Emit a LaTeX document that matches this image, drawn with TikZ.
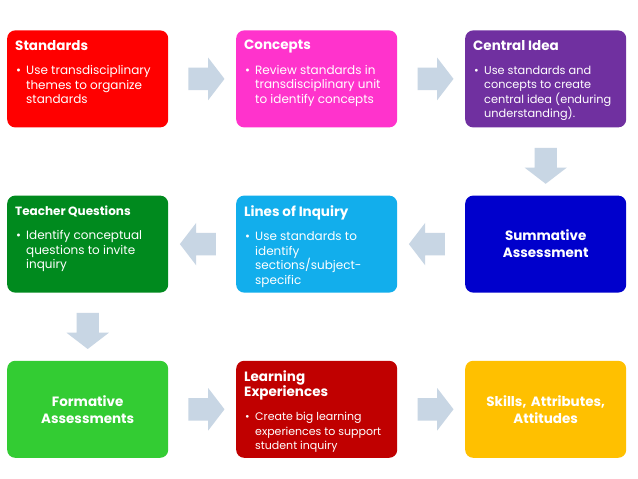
\documentclass[tikz,border=0pt]{standalone}
\usepackage{fontspec}
\setmainfont{Poppins}
\usetikzlibrary{shapes.arrows,calc}

\definecolor{stdred}{HTML}{FF0000}
\definecolor{conpink}{HTML}{FF33CC}
\definecolor{ideapurple}{HTML}{7030A0}
\definecolor{teachgreen}{HTML}{008A1E}
\definecolor{inqblue}{HTML}{12AEEC}
\definecolor{sumblue}{HTML}{0000CC}
\definecolor{formgreen}{HTML}{33CC33}
\definecolor{learnred}{HTML}{C00000}
\definecolor{skillgold}{HTML}{FFC000}
\definecolor{arrowgray}{HTML}{C8D6E4}

\newcommand{\cardtitlefont}{\fontsize{13.5}{15}\selectfont\bfseries}
\newcommand{\cardbodyfont}{\fontsize{12}{14.5}\selectfont}
\newcommand{\cardtext}[2]{%
  \parbox[c][81pt][t]{145pt}{\raggedright
    \vspace*{2pt}{\cardtitlefont #1\par}\vspace{10pt}%
    {\cardbodyfont\leftskip=11pt\noindent
     \llap{\makebox[11pt][l]{\hspace{1pt}\textbullet}}#2\par}}}

\begin{document}
\begin{tikzpicture}[x=1pt,y=1pt,
  card/.style={fill=#1, text=white, rounded corners=8pt, inner sep=8pt,
    minimum width=161pt, minimum height=97pt},
  plain card/.style={card=#1, text width=145pt, align=center,
    font=\fontsize{13.5}{17}\selectfont\bfseries},
  small title/.code={\def\cardtitlefont{\fontsize{12}{14}\selectfont\bfseries}},
  body size/.code={\def\cardbodyfont{\fontsize{#1}{14.3}\selectfont}},
  flow arrow/.style={single arrow, fill=arrowgray, inner xsep=0pt, inner ysep=11pt,
    single arrow head extend=10pt, single arrow tip angle=105, minimum height=36pt}]
  \useasboundingbox[fill=white] (0,0) rectangle (638,-479);

  \matrix (grid) [column sep=68pt, row sep=68pt, anchor=north west, inner sep=0pt] at (7,-30) {
  \node[card=stdred] (std) {\cardtext{Standards}{Use transdisciplinary\\themes to organize\\standards}}; &
  \node[card=conpink] (con) {\cardtext{Concepts}{Review standards in\\transdisciplinary unit\\to identify concepts}}; &
  \node[card=ideapurple, body size=11.3] (idea) {\cardtext{Central Idea}{Use standards and\\concepts to create\\central idea (enduring\\understanding).}}; \\
  \node[card=teachgreen, small title] (teach) {\cardtext{Teacher Questions}{Identify conceptual\\questions to invite\\inquiry}}; &
  \node[card=inqblue] (inq) {\cardtext{Lines of Inquiry}{Use standards to\\identify\\sections/subject-\\specific}}; &
  \node[plain card=sumblue] (sum) {Summative\\Assessment}; \\
  \node[plain card=formgreen] (form) {Formative\\Assessments}; &
  \node[card=learnred, body size=11] (learn) {\cardtext{Learning\\Experiences}{Create big learning\\experiences to support\\student inquiry}}; &
  \node[plain card=skillgold] (skill) {Skills, Attributes,\\Attitudes}; \\
  };

  % flow between the stages
  \node[flow arrow] (a1) at ($(std.east)!0.5!(con.west)$) {};
  \node[flow arrow] (a2) at ($(con.east)!0.5!(idea.west)$) {};
  \node[flow arrow, rotate=-90] (a3) at ($(idea.south)!0.5!(sum.north)$) {};
  \node[flow arrow, rotate=180] (a4) at ($(sum.west)!0.5!(inq.east)$) {};
  \node[flow arrow, rotate=180] (a5) at ($(inq.west)!0.5!(teach.east)$) {};
  \node[flow arrow, rotate=-90] (a6) at ($(teach.south)!0.5!(form.north)$) {};
  \node[flow arrow] (a7) at ($(form.east)!0.5!(learn.west)$) {};
  \node[flow arrow] (a8) at ($(learn.east)!0.5!(skill.west)$) {};
\end{tikzpicture}
\end{document}
